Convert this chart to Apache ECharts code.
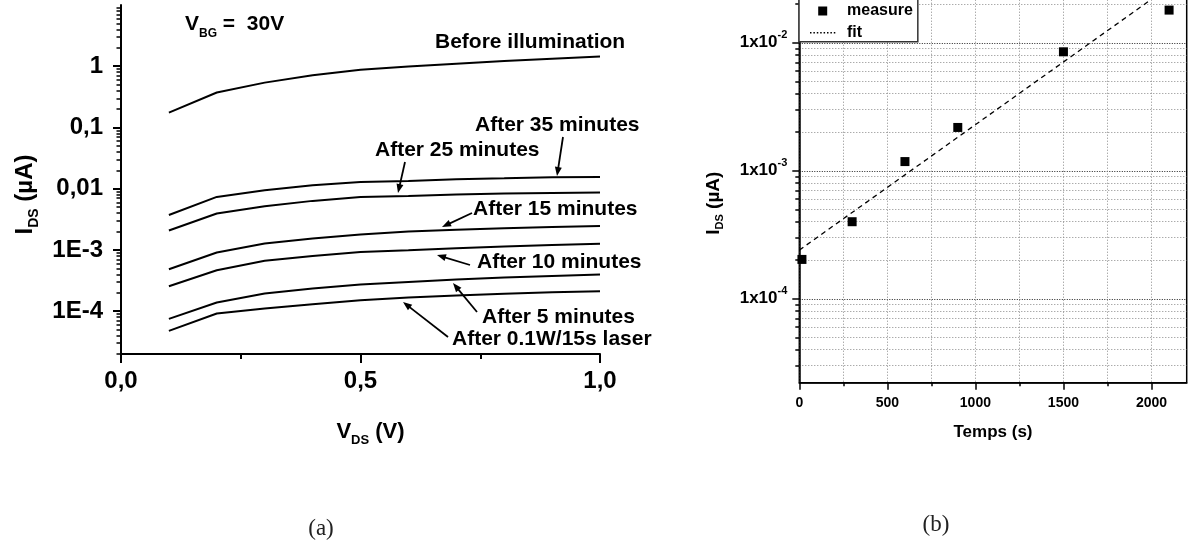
<!DOCTYPE html>
<html>
<head>
<meta charset="utf-8">
<script src="https://cdn.jsdelivr.net/npm/echarts@6/dist/echarts.min.js"></script>
<style>html,body{margin:0;padding:0;background:#fff}#c{width:1193px;height:550px}</style>
</head>
<body>
<div id="c"></div>
<script>
// ---------- Panel (a) data ----------
const VDS = [0.1, 0.2, 0.3, 0.4, 0.5, 0.6, 0.7, 0.8, 0.9, 1.0];
const I_BEFORE = [0.175, 0.372, 0.54, 0.71, 0.88, 0.99, 1.10, 1.22, 1.33, 1.44];
const I_35MIN  = [0.00373, 0.00735, 0.00946, 0.0114, 0.0129, 0.0134, 0.0143, 0.0148, 0.0154, 0.0156];
const I_25MIN  = [0.00208, 0.00394, 0.00518, 0.00633, 0.00735, 0.00764, 0.00803, 0.00834, 0.00855, 0.00866];
const I_15MIN  = [4.85e-4, 9.08e-4, 1.27e-3, 1.54e-3, 1.79e-3, 2.0e-3, 2.13e-3, 2.27e-3, 2.38e-3, 2.47e-3];
const I_10MIN  = [2.56e-4, 4.67e-4, 6.64e-4, 8.0e-4, 9.3e-4, 9.9e-4, 1.07e-3, 1.14e-3, 1.21e-3, 1.26e-3];
const I_5MIN   = [7.5e-5, 1.39e-4, 1.95e-4, 2.35e-4, 2.73e-4, 3.01e-4, 3.29e-4, 3.55e-4, 3.77e-4, 3.97e-4];
const I_LASER  = [4.77e-5, 9.16e-5, 1.11e-4, 1.30e-4, 1.51e-4, 1.67e-4, 1.80e-4, 1.92e-4, 2.04e-4, 2.12e-4];
const CURVE_NAMES = ['Before illumination', 'After 35 minutes', 'After 25 minutes', 'After 15 minutes',
                     'After 10 minutes', 'After 5 minutes', 'After 0.1W/15s laser'];
const LEFT_X_TICKS = [0, 0.5, 1];
const LEFT_X_LABELS = ['0,0', '0,5', '1,0'];
const LEFT_Y_TICKS = [1e-4, 1e-3, 1e-2, 0.1, 1];
const LEFT_Y_LABELS = ['1E-4', '1E-3', '0,01', '0,1', '1'];

// ---------- Panel (b) data ----------
const T_MEAS = [15, 300, 600, 900, 1500, 2100];
const I_MEAS = [2.03e-4, 4.0e-4, 1.18e-3, 2.18e-3, 8.5e-3, 0.018];
const T_FIT = [0, 2100];
const I_FIT = [2.4e-4, 0.0274];
const RIGHT_X_TICKS = [0, 500, 1000, 1500, 2000];
const RIGHT_X_LABELS = ['0', '500', '1000', '1500', '2000'];
const RIGHT_X_MINOR = [250, 750, 1250, 1750];
const RIGHT_Y_TICKS = [1e-4, 1e-3, 1e-2];
const RIGHT_Y_EXP = ['-4', '-3', '-2'];
const MANTISSAS = [2, 3, 4, 5, 6, 7, 8, 9];

const FONT = '"Liberation Sans", Arial, sans-serif';

function logMinors(lo, hi) {
  const out = [];
  for (let e = -6; e <= 2; e++) {
    MANTISSAS.forEach(m => {
      const v = m * Math.pow(10, e);
      if (v > lo * 1.0001 && v < hi * 0.9999) out.push(v);
    });
  }
  return out;
}
function findIdx(val, ticks, isLog) {
  for (let i = 0; i < ticks.length; i++) {
    if (isLog ? Math.abs(Math.log10(val / ticks[i])) < 1e-6 : Math.abs(val - ticks[i]) < 1e-9) return i;
  }
  return -1;
}

const L_YMIN = 2e-5, L_YMAX = 10;
const R_YMIN = 2.21e-5, R_YMAX = 0.03;

const leftData = [I_BEFORE, I_35MIN, I_25MIN, I_15MIN, I_10MIN, I_5MIN, I_LASER];
const leftSeries = leftData.map((arr, k) => ({
  name: CURVE_NAMES[k], type: 'line', xAxisIndex: 0, yAxisIndex: 0,
  data: VDS.map((v, i) => [v, arr[i]]),
  symbol: 'none', silent: true,
  lineStyle: { color: '#000', width: 2 }, itemStyle: { color: '#000' }
}));

// ---------- annotations (panel a) ----------
const ANN = [
  { t: 'Before illumination', x: 435, y: 42 },
  { t: 'After 35 minutes', x: 475, y: 125 },
  { t: 'After 25 minutes', x: 375, y: 150 },
  { t: 'After 15 minutes', x: 473, y: 209 },
  { t: 'After 10 minutes', x: 477, y: 262 },
  { t: 'After 5 minutes', x: 482, y: 317 },
  { t: 'After 0.1W/15s laser', x: 452, y: 339 }
];
const ARROWS = [
  [563, 137, 557, 176],
  [405, 162, 398, 193],
  [472, 213, 442, 227],
  [470, 265, 437, 255],
  [477, 312, 453, 283],
  [448, 337, 403, 302]
];
const graphics = [];
ANN.forEach(a => graphics.push({
  type: 'text', z: 50, silent: true,
  style: { text: a.t, x: a.x, y: a.y, verticalAlign: 'middle', fill: '#000',
           fontSize: 21, fontWeight: 'bold', fontFamily: FONT }
}));
ARROWS.forEach(([x1, y1, x2, y2]) => {
  const dx = x2 - x1, dy = y2 - y1, L = Math.hypot(dx, dy);
  const ux = dx / L, uy = dy / L, nx = -uy, ny = ux;
  const hl = 9, hw = 3.5;
  graphics.push({ type: 'line', z: 50, silent: true,
    shape: { x1, y1, x2: x2 - ux * hl * 0.7, y2: y2 - uy * hl * 0.7 },
    style: { stroke: '#000', lineWidth: 1.8 } });
  graphics.push({ type: 'polygon', z: 50, silent: true,
    shape: { points: [[x2, y2], [x2 - ux * hl + nx * hw, y2 - uy * hl + ny * hw], [x2 - ux * hl - nx * hw, y2 - uy * hl - ny * hw]] },
    style: { fill: '#000' } });
});
graphics.push({
  type: 'text', z: 50, silent: true,
  style: { text: '{v|V}{s|BG}{v| =  30V}', x: 185, y: 24, verticalAlign: 'middle',
    rich: { v: { fontSize: 21, fontWeight: 'bold', fontFamily: FONT, fill: '#000', lineHeight: 32 },
            s: { fontSize: 12, fontWeight: 'bold', fontFamily: FONT, fill: '#000', lineHeight: 12, verticalAlign: 'bottom' } } }
});
graphics.push({ type: 'text', silent: true,
  style: { text: '(a)', x: 321, y: 529, align: 'center', verticalAlign: 'middle', fill: '#222',
           fontSize: 23, fontFamily: '"Liberation Serif", "DejaVu Serif", serif' } });
graphics.push({ type: 'text', silent: true,
  style: { text: '(b)', x: 936, y: 525, align: 'center', verticalAlign: 'middle', fill: '#222',
           fontSize: 23, fontFamily: '"Liberation Serif", "DejaVu Serif", serif' } });

// fit legend dotted icon
let fitIcon = 'path://M0,0M32,14';
for (let x = 0; x < 25; x += 3.4) fitIcon += `M${x.toFixed(1)},6.3h1.5v1.4h-1.5z`;
const measIcon = 'path://M0,0M32,14M8.2,2.5h9v9h-9z';

const chart = echarts.init(document.getElementById('c'), null, { renderer: 'canvas' });
const blackLine = { color: '#000', width: 2 };
const option = {
  animation: false,
  backgroundColor: '#fff',
  graphic: graphics,
  legend: {
    orient: 'vertical', left: 799, top: -10,
    padding: [13, 5, 1, 11], itemGap: 5.7, itemWidth: 32, itemHeight: 14,
    backgroundColor: '#fff', borderColor: '#333', borderWidth: 1.5, borderRadius: 0,
    selectedMode: false,
    textStyle: { fontSize: 16, fontWeight: 'bold', fontFamily: FONT, color: '#000', lineHeight: 16 },
    data: [
      { name: 'measure', icon: measIcon, itemStyle: { color: '#000', borderWidth: 0, opacity: 1 } },
      { name: 'fit', icon: fitIcon, itemStyle: { color: '#000', borderWidth: 0, opacity: 1 } }
    ]
  },
  grid: [
    { left: 121, top: 5, width: 479, height: 349, containLabel: false, outerBoundsMode: 'none' },
    { left: 799.3, top: -18.3, width: 387.4, height: 401, containLabel: false, outerBoundsMode: 'none',
      show: true, borderColor: '#000', borderWidth: 1.5, backgroundColor: 'transparent' }
  ],
  xAxis: [
    { gridIndex: 0, type: 'value', min: 0, max: 1, interval: 0.5,
      axisLine: { onZero: false, lineStyle: blackLine },
      axisTick: { length: 9, lineStyle: blackLine },
      minorTick: { show: true, splitNumber: 2, length: 5, lineStyle: blackLine },
      splitLine: { show: false }, minorSplitLine: { show: false },
      axisLabel: { margin: 15, color: '#000', fontSize: 24, fontWeight: 'bold', fontFamily: FONT,
        formatter: v => { const i = findIdx(v, LEFT_X_TICKS, false); return i < 0 ? '' : LEFT_X_LABELS[i]; } },
      name: '{v|V}{s|DS}{v| (V)}', nameLocation: 'middle', nameGap: 63, nameMoveOverlap: false,
      nameTextStyle: { padding: [0, 0, 0, 20], rich: {
        v: { fontSize: 22, fontWeight: 'bold', fontFamily: FONT, color: '#000', lineHeight: 30 },
        s: { fontSize: 13, fontWeight: 'bold', fontFamily: FONT, color: '#000', lineHeight: 13, verticalAlign: 'bottom' } } }
    },
    { gridIndex: 1, type: 'value', min: 0, max: 2200,
      axisLine: { onZero: false, lineStyle: { color: '#000', width: 1.5 } },
      axisTick: { customValues: RIGHT_X_TICKS, length: 7, lineStyle: { color: '#000', width: 1.5 } },
      axisLabel: { customValues: RIGHT_X_TICKS, margin: 13, color: '#000', fontSize: 14, fontWeight: 'bold', fontFamily: FONT,
        formatter: v => { const i = findIdx(v, RIGHT_X_TICKS, false); return i < 0 ? '' : RIGHT_X_LABELS[i]; } },
      splitLine: { show: true, lineStyle: { color: '#888', width: 1, type: [1, 2] } },
      name: 'Temps (s)', nameLocation: 'middle', nameGap: 40, nameMoveOverlap: false,
      nameTextStyle: { fontSize: 17, fontWeight: 'bold', fontFamily: FONT, color: '#000', lineHeight: 20 }
    },
    { gridIndex: 1, type: 'value', min: 0, max: 2200, position: 'bottom', offset: 0,
      axisLine: { show: false, onZero: false },
      axisTick: { customValues: RIGHT_X_MINOR, length: 3.5, lineStyle: { color: '#000', width: 1.5 } },
      axisLabel: { show: false },
      splitLine: { show: true, lineStyle: { color: '#888', width: 1, type: [1, 2] } }
    }
  ],
  yAxis: [
    { gridIndex: 0, type: 'log', logBase: 10, min: L_YMIN, max: L_YMAX,
      axisLine: { lineStyle: blackLine },
      axisTick: { customValues: LEFT_Y_TICKS, length: 8, lineStyle: blackLine },
      axisLabel: { customValues: LEFT_Y_TICKS, margin: 18, color: '#000', fontSize: 24, fontWeight: 'bold', fontFamily: FONT,
        formatter: v => { const i = findIdx(v, LEFT_Y_TICKS, true); return i < 0 ? '' : LEFT_Y_LABELS[i]; } },
      splitLine: { show: false },
      name: '{a|I}{b|DS}{a| (µA)}', nameLocation: 'middle', nameGap: 80, nameMoveOverlap: false,
      nameTextStyle: { padding: [0, 30, 0, 0], rich: {
        a: { fontSize: 24, fontWeight: 'bold', fontFamily: FONT, color: '#000', lineHeight: 32 },
        b: { fontSize: 14, fontWeight: 'bold', fontFamily: FONT, color: '#000', lineHeight: 14, verticalAlign: 'bottom' } } }
    },
    { gridIndex: 0, type: 'log', logBase: 10, min: L_YMIN, max: L_YMAX, position: 'left', offset: 0,
      axisLine: { show: false },
      axisTick: { customValues: logMinors(L_YMIN * 0.99, L_YMAX), length: 4.5, lineStyle: { color: '#000', width: 1.5 } },
      axisLabel: { show: false }, splitLine: { show: false }
    },
    { gridIndex: 1, type: 'log', logBase: 10, min: R_YMIN, max: R_YMAX,
      axisLine: { lineStyle: { color: '#000', width: 1.5 } },
      axisTick: { customValues: RIGHT_Y_TICKS, length: 7, lineStyle: { color: '#000', width: 1.5 } },
      axisLabel: { customValues: RIGHT_Y_TICKS, margin: 12,
        formatter: v => { const i = findIdx(v, RIGHT_Y_TICKS, true); return i < 0 ? '' : '{m|1x10}{s|' + RIGHT_Y_EXP[i] + '}'; },
        rich: {
          m: { fontSize: 17, fontWeight: 'bold', fontFamily: FONT, color: '#000', lineHeight: 26 },
          s: { fontSize: 11, fontWeight: 'bold', fontFamily: FONT, color: '#000', lineHeight: 11, verticalAlign: 'top' } } },
      splitLine: { show: true, lineStyle: { color: '#222', width: 1, type: [1, 1.5] } },
      name: '{a|I}{b|DS}{a| (µA)}', nameLocation: 'middle', nameGap: 74, nameMoveOverlap: false,
      nameTextStyle: { padding: [0, 42, 0, 0], rich: {
        a: { fontSize: 19, fontWeight: 'bold', fontFamily: FONT, color: '#000', lineHeight: 24 },
        b: { fontSize: 11, fontWeight: 'bold', fontFamily: FONT, color: '#000', lineHeight: 11, verticalAlign: 'bottom' } } }
    },
    { gridIndex: 1, type: 'log', logBase: 10, min: R_YMIN, max: R_YMAX, position: 'left', offset: 0,
      axisLine: { show: false },
      axisTick: { customValues: logMinors(R_YMIN, R_YMAX), length: 4, lineStyle: { color: '#000', width: 1.5 } },
      axisLabel: { show: false },
      splitLine: { show: true, lineStyle: { color: '#888', width: 1, type: [1, 2] } }
    }
  ],
  series: leftSeries.concat([
    { name: 'fit', type: 'line', xAxisIndex: 1, yAxisIndex: 2, silent: true,
      data: T_FIT.map((t, i) => [t, I_FIT[i]]), symbol: 'none', z: 3,
      lineStyle: { color: '#000', width: 1.3, type: [5, 4] }, itemStyle: { color: '#000' } },
    { name: 'measure', type: 'scatter', xAxisIndex: 1, yAxisIndex: 2, silent: true,
      data: T_MEAS.map((t, i) => [t, I_MEAS[i]]), symbol: 'rect', symbolSize: 9, z: 4,
      itemStyle: { color: '#000', opacity: 1, borderWidth: 0 } }
  ])
};
chart.setOption(option);
</script>
</body>
</html>
